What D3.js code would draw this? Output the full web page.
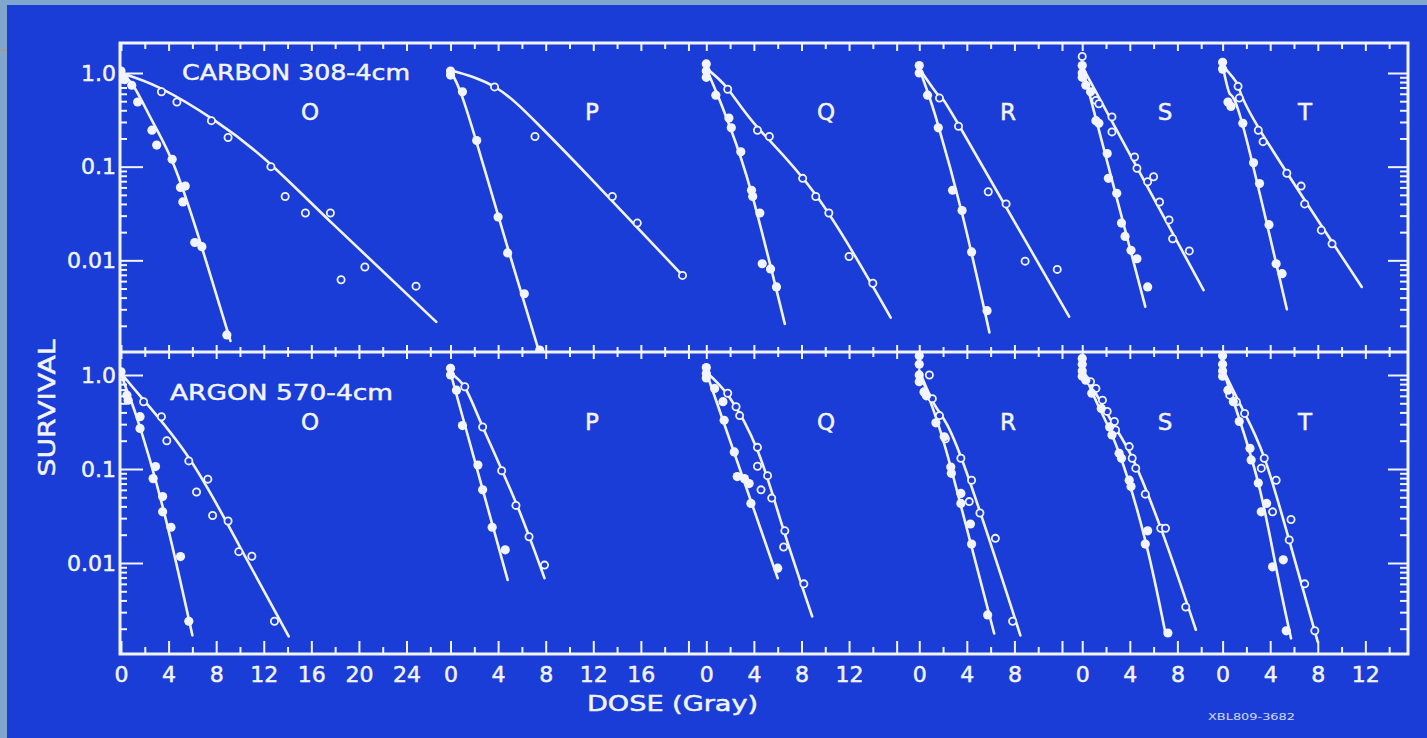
<!DOCTYPE html>
<html>
<head>
<meta charset="utf-8">
<script src="https://cdn.jsdelivr.net/npm/d3@7"></script>
<style>
html, body { margin: 0; padding: 0; background: #80a6cc; }
svg { display: block; }
text { font-family: "DejaVu Sans", "Liberation Sans", sans-serif; fill: #f2f4fb; stroke: #f2f4fb; stroke-width: 0.5px; }
</style>
</head>
<body>
<svg id="chart" width="1427" height="738"></svg>
<script>
'use strict';

// ---- data ----
const panels = ['O', 'P', 'Q', 'R', 'S', 'T'];
const doseSpan = [27.7, 21.5, 17.9, 13.7, 11.8, 15.5]; // Gy shown per panel
const doseLabels = [[0, 4, 8, 12, 16, 20, 24], [0, 4, 8, 12, 16], [0, 4, 8, 12], [0, 4, 8], [0, 4, 8], [0, 4, 8, 12]];
const beams = ['CARBON 308-4cm', 'ARGON 570-4cm'];
const survivalTicks = [1, 0.1, 0.01];
const survivalLabels = ['1.0', '0.1', '0.01'];

// [dose Gy, surviving fraction], one list per panel O..T
const carbonFilled = [
	[[0, 1.05], [0, 0.9], [0.3, 0.85], [0.9, 0.74], [1.4, 0.49], [2.6, 0.245], [3.0, 0.17], [4.3, 0.12], [5.0, 0.06], [5.4, 0.062], [5.2, 0.042], [6.2, 0.0155], [6.8, 0.014], [8.9, 0.0016]],
	[[0, 1.05], [0, 0.95], [1.0, 0.63], [2.2, 0.19], [4.0, 0.029], [4.8, 0.012], [6.2, 0.0044], [7.5, 0.0011]],
	[[0, 1.25], [0, 1.05], [0, 0.9], [0.8, 0.58], [1.9, 0.33], [2.1, 0.26], [2.9, 0.144], [3.8, 0.056], [3.9, 0.048], [4.5, 0.032], [4.7, 0.0092], [5.4, 0.0081], [5.9, 0.0052]],
	[[0, 1.2], [0, 1.0], [0.7, 0.58], [1.6, 0.26], [2.8, 0.056], [3.6, 0.034], [4.4, 0.0123], [5.7, 0.0029]],
	[[0, 1.2], [0, 1.0], [0, 0.9], [0.3, 0.74], [0.7, 0.63], [1.15, 0.31], [1.4, 0.29], [2.1, 0.138], [2.2, 0.075], [2.9, 0.052], [3.3, 0.025], [3.6, 0.018], [4.1, 0.0128], [4.6, 0.0104], [5.5, 0.0052]],
	[[0, 1.3], [0, 1.1], [0.45, 0.49], [0.7, 0.44], [1.7, 0.29], [2.6, 0.11], [3.1, 0.066], [3.9, 0.024], [4.5, 0.0092], [5.0, 0.0072]]
];
const carbonOpen = [
	[[3.4, 0.63], [4.7, 0.49], [7.6, 0.31], [9.0, 0.205], [12.6, 0.1], [13.8, 0.048], [15.5, 0.032], [17.6, 0.032], [20.5, 0.0085], [18.5, 0.0062], [24.8, 0.0053]],
	[[3.7, 0.71], [7.1, 0.21], [13.6, 0.048], [15.7, 0.025], [19.5, 0.0069]],
	[[1.8, 0.67], [4.3, 0.245], [5.3, 0.21], [8.1, 0.075], [9.2, 0.048], [10.3, 0.032], [12.0, 0.011], [14.0, 0.0057]],
	[[1.7, 0.54], [3.3, 0.27], [5.8, 0.054], [7.3, 0.04], [8.9, 0.0098], [11.6, 0.008]],
	[[0, 1.5], [1.15, 0.51], [1.4, 0.47], [2.5, 0.34], [2.5, 0.235], [4.4, 0.127], [4.6, 0.096], [5.5, 0.069], [6.0, 0.078], [6.5, 0.042], [7.3, 0.027], [7.6, 0.017], [9.0, 0.0126]],
	[[1.3, 0.72], [1.4, 0.54], [3.0, 0.245], [3.4, 0.185], [5.4, 0.085], [6.6, 0.062], [6.9, 0.04], [8.3, 0.021], [9.2, 0.015]]
];
const carbonFilledFit = [
	[[0, 1.0], [1.1, 0.71], [2.7, 0.295], [4.5, 0.1], [6.7, 0.0151], [9.2, 0.00138]],
	[[0, 1.05], [1.0, 0.55], [2.7, 0.11], [4.7, 0.0151], [7.5, 0.001]],
	[[0, 1.12], [1.0, 0.56], [2.0, 0.263], [3.8, 0.0525], [6.6, 0.0021]],
	[[0, 1.12], [0.7, 0.63], [1.6, 0.275], [3.6, 0.0316], [5.9, 0.0017]],
	[[0, 1.17], [5.3, 0.0032]],
	[[0, 1.2], [0.6, 0.6], [1.7, 0.275], [5.4, 0.003]]
];
const carbonOpenFit = [
	[[0, 1.0], [3.3, 0.69], [7.8, 0.316], [12.2, 0.117], [17.8, 0.0245], [26.5, 0.0022]],
	[[0, 1.07], [3.8, 0.7], [7.4, 0.28], [12.2, 0.066], [19.5, 0.0069]],
	[[0, 1.12], [1.8, 0.68], [4.3, 0.263], [9.2, 0.05], [15.5, 0.00245]],
	[[0, 1.12], [1.7, 0.56], [3.3, 0.282], [12.6, 0.0025]],
	[[0, 1.17], [10.2, 0.0048]],
	[[0, 1.2], [1.3, 0.74], [3.0, 0.263], [11.7, 0.0052]]
];
const argonFilled = [
	[[0, 1.08], [0.5, 0.61], [0.6, 0.54], [1.6, 0.36], [1.6, 0.27], [2.9, 0.106], [2.7, 0.079], [3.5, 0.051], [3.5, 0.035], [4.2, 0.024], [5.0, 0.0117], [5.7, 0.0024]],
	[[0, 1.18], [0, 1.0], [0.5, 0.69], [1.0, 0.29], [2.3, 0.11], [2.7, 0.06], [3.5, 0.024], [4.6, 0.0138]],
	[[0, 1.2], [0, 1.04], [0, 0.93], [0.7, 0.72], [1.4, 0.52], [1.5, 0.33], [2.35, 0.152], [2.6, 0.083], [3.2, 0.079], [3.6, 0.07], [3.75, 0.043], [6.0, 0.0088]],
	[[0, 1.6], [0, 1.3], [0, 1.0], [0, 0.85], [0.4, 0.66], [0.6, 0.6], [1.4, 0.31], [2.1, 0.22], [2.65, 0.105], [2.7, 0.09], [3.5, 0.055], [3.5, 0.043], [4.3, 0.026], [4.4, 0.0159], [5.75, 0.0028]],
	[[0, 1.5], [0, 1.3], [0, 1.1], [0, 0.97], [0.3, 0.88], [0.8, 0.64], [1.6, 0.44], [2.3, 0.28], [2.5, 0.23], [3.1, 0.147], [3.3, 0.13], [3.95, 0.076], [4.1, 0.065], [5.5, 0.022], [5.3, 0.0159], [7.2, 0.0018]],
	[[0, 1.6], [0, 1.3], [0, 1.1], [0, 0.97], [0.45, 0.69], [0.9, 0.52], [1.4, 0.32], [2.3, 0.166], [2.4, 0.125], [3.0, 0.071], [3.7, 0.043], [3.25, 0.035], [4.2, 0.0091], [5.1, 0.0108], [5.35, 0.0019]]
];
const argonOpen = [
	[[1.9, 0.52], [3.4, 0.36], [3.85, 0.2], [5.7, 0.122], [7.3, 0.078], [6.35, 0.057], [7.7, 0.032], [9.0, 0.028], [9.9, 0.0132], [11.0, 0.0118], [12.9, 0.0024]],
	[[1.2, 0.75], [2.7, 0.28], [4.3, 0.096], [5.5, 0.041], [6.6, 0.019], [7.9, 0.0095]],
	[[1.8, 0.64], [2.5, 0.46], [2.8, 0.37], [4.3, 0.17], [4.3, 0.107], [5.15, 0.085], [4.6, 0.06], [5.5, 0.049], [6.6, 0.022], [6.5, 0.0148], [8.2, 0.006]],
	[[0.85, 1.0], [1.1, 0.56], [1.7, 0.37], [2.2, 0.21], [3.5, 0.13], [4.4, 0.076], [4.2, 0.045], [5.1, 0.034], [6.4, 0.0183], [7.85, 0.0024]],
	[[0.7, 0.85], [1.15, 0.72], [1.7, 0.54], [2.1, 0.41], [2.7, 0.32], [2.8, 0.26], [3.95, 0.173], [4.2, 0.13], [4.5, 0.102], [5.3, 0.054], [6.6, 0.0234], [7.0, 0.0234], [8.7, 0.0034]],
	[[0.6, 0.61], [1.15, 0.52], [1.85, 0.39], [3.5, 0.13], [3.25, 0.102], [4.5, 0.076], [4.2, 0.035], [5.75, 0.029], [5.6, 0.0176], [6.9, 0.006], [7.75, 0.0019]]
];
const argonFilledFit = [
	[[0, 1.05], [0.6, 0.63], [1.3, 0.363], [3.5, 0.0398], [6.0, 0.0017]],
	[[0, 1.05], [4.8, 0.0066]],
	[[0, 1.07], [6.0, 0.0069]],
	[[0, 1.12], [1.1, 0.457], [2.65, 0.105], [6.3, 0.00178]],
	[[0, 1.17], [1.4, 0.457], [3.1, 0.148], [5.3, 0.0174], [7.0, 0.00178]],
	[[0, 1.17], [1.15, 0.427], [3.0, 0.0708], [4.5, 0.0089], [5.75, 0.00158]]
];
const argonOpenFit = [
	[[0, 1.05], [1.8, 0.56], [5.8, 0.126], [10.0, 0.0148], [14.1, 0.00166]],
	[[0, 1.05], [1.2, 0.74], [2.7, 0.282], [5.5, 0.0437], [7.9, 0.0069]],
	[[0, 1.07], [1.9, 0.59], [4.3, 0.158], [6.4, 0.0245], [8.9, 0.0027]],
	[[0, 1.12], [1.4, 0.457], [3.5, 0.135], [8.5, 0.0017]],
	[[0, 1.17], [2.5, 0.316], [4.2, 0.132], [6.75, 0.0209], [9.55, 0.00195]],
	[[0, 1.17], [1.7, 0.427], [3.5, 0.132], [5.6, 0.0174], [8.0, 0.00145]]
];

// ---- layout ----
const blue = '#1b3dd7';
const ink = '#f2f4fb';
const frame = {left: 120, right: 1408, top: 43, mid: 352, bottom: 654};
const letterX = [310, 592, 826, 1008, 1165, 1305];

const svg = d3.select('#chart');

svg.append('rect')
	.attr('x', 7).attr('y', 5)
	.attr('width', 1420).attr('height', 733)
	.attr('fill', blue);
svg.append('line')
	.attr('x1', 0).attr('x2', 7).attr('y1', 50).attr('y2', 50)
	.attr('stroke', '#c89060').attr('stroke-width', 1);

// one long dose axis, broken into panels that each restart at 0
let totalDose = d3.sum(doseSpan);
let xAll = d3.scaleLinear().domain([0, totalDose]).range([121, 1407]);
let offsets = doseSpan.map((d, i) => d3.sum(doseSpan.slice(0, i)));
let xPanel = doseSpan.map((span, i) => d3.scaleLinear()
	.domain([0, span])
	.range([xAll(offsets[i]), xAll(offsets[i] + span)]));

let rows = [
	{
		title: beams[0], titleX: 182, titleY: 80, letterY: 112,
		y: d3.scaleLog().domain([1, 0.001]).range([73, 354]),
		top: frame.top, bottom: frame.mid,
		filled: carbonFilled, open: carbonOpen, filledFit: carbonFilledFit, openFit: carbonOpenFit
	},
	{
		title: beams[1], titleX: 170, titleY: 400, letterY: 422,
		y: d3.scaleLog().domain([1, 0.001]).range([375, 657]),
		top: frame.mid, bottom: frame.bottom,
		filled: argonFilled, open: argonOpen, filledFit: argonFilledFit, openFit: argonOpenFit
	}
];

let minorValues = [];
[-3, -2, -1].forEach(k => {
	for (let m = 2; m <= 9; m++) minorValues.push(m * Math.pow(10, k));
});

function styleAxis(g) {
	g.select('.domain').remove();
	g.selectAll('.tick line').attr('stroke', ink).attr('stroke-width', 2);
	g.selectAll('.tick text').attr('fill', ink).attr('font-size', 22)
		.attr('font-family', '"DejaVu Sans", sans-serif');
}

rows.forEach((row, ri) => {
	let clipId = 'clip' + ri;
	svg.append('clipPath').attr('id', clipId)
		.append('rect')
		.attr('x', frame.left).attr('y', row.top)
		.attr('width', frame.right - frame.left).attr('height', row.bottom - row.top);

	// survival axis, left (labelled) and right
	svg.append('g')
		.attr('transform', `translate(${frame.left},0)`)
		.call(d3.axisLeft(row.y).tickValues(survivalTicks)
			.tickSize(-23).tickPadding(4)
			.tickFormat((d, i) => survivalLabels[i]))
		.call(styleAxis);
	svg.append('g')
		.attr('transform', `translate(${frame.left},0)`)
		.call(d3.axisLeft(row.y).tickValues(minorValues).tickSize(-7).tickFormat(''))
		.call(styleAxis);
	svg.append('g')
		.attr('transform', `translate(${frame.right},0)`)
		.call(d3.axisRight(row.y).tickValues(survivalTicks).tickSize(-20).tickFormat(''))
		.call(styleAxis);
	svg.append('g')
		.attr('transform', `translate(${frame.right},0)`)
		.call(d3.axisRight(row.y).tickValues(minorValues).tickSize(-8).tickFormat(''))
		.call(styleAxis);

	svg.append('text')
		.attr('x', row.titleX).attr('y', row.titleY)
		.attr('font-size', 22)
		.attr('textLength', ri === 0 ? 228 : 223)
		.attr('lengthAdjust', 'spacingAndGlyphs')
		.text(row.title);

	let plot = svg.append('g').attr('clip-path', `url(#${clipId})`);

	panels.forEach((name, pi) => {
		let x = xPanel[pi];
		let line = d3.line()
			.x(d => x(d[0]))
			.y(d => row.y(d[1]))
			.curve(d3.curveNatural);

		svg.append('text')
			.attr('x', letterX[pi]).attr('y', row.letterY)
			.attr('dy', '0.36em')
			.attr('text-anchor', 'middle')
			.attr('font-size', 23)
			.text(name);

		[row.filledFit[pi], row.openFit[pi]].forEach(fit => {
			plot.append('path')
				.datum(fit)
				.attr('d', line)
				.attr('fill', 'none')
				.attr('stroke', ink)
				.attr('stroke-width', 2.6)
				.attr('stroke-linecap', 'round');
		});

		plot.selectAll(null)
			.data(row.open[pi])
			.join('circle')
			.attr('cx', d => x(d[0]))
			.attr('cy', d => row.y(d[1]))
			.attr('r', 3.6)
			.attr('fill', blue)
			.attr('stroke', ink)
			.attr('stroke-width', 1.8);

		plot.selectAll(null)
			.data(row.filled[pi])
			.join('circle')
			.attr('cx', d => x(d[0]))
			.attr('cy', d => row.y(d[1]))
			.attr('r', 4.6)
			.attr('fill', ink);
	});
});

// dose ticks along the top edge, the divider and the bottom edge
panels.forEach((name, pi) => {
	let x = xPanel[pi];
	let all = d3.range(0, doseSpan[pi] - 0.5, 2);
	let major = all.filter(d => d % 4 === 0);
	let minor = all.filter(d => d % 4 !== 0);

	svg.append('g').attr('transform', `translate(0,${frame.top})`)
		.call(d3.axisBottom(x).tickValues(major).tickSize(8).tickFormat('')).call(styleAxis);
	svg.append('g').attr('transform', `translate(0,${frame.top})`)
		.call(d3.axisBottom(x).tickValues(minor).tickSize(6).tickFormat('')).call(styleAxis);

	svg.append('g').attr('transform', `translate(0,${frame.mid})`)
		.call(d3.axisBottom(x).tickValues(major).tickSize(7).tickFormat('')).call(styleAxis);
	svg.append('g').attr('transform', `translate(0,${frame.mid})`)
		.call(d3.axisTop(x).tickValues(major).tickSize(7).tickFormat('')).call(styleAxis);
	svg.append('g').attr('transform', `translate(0,${frame.mid})`)
		.call(d3.axisBottom(x).tickValues(minor).tickSize(5).tickFormat('')).call(styleAxis);
	svg.append('g').attr('transform', `translate(0,${frame.mid})`)
		.call(d3.axisTop(x).tickValues(minor).tickSize(5).tickFormat('')).call(styleAxis);

	svg.append('g').attr('transform', `translate(0,${frame.bottom})`)
		.call(d3.axisBottom(x).tickValues(major).tickSize(-13).tickFormat(''))
		.call(styleAxis);
	svg.append('g').attr('transform', `translate(0,${frame.bottom})`)
		.call(d3.axisBottom(x).tickValues(minor).tickSize(-7).tickFormat(''))
		.call(styleAxis);
	svg.append('g').attr('transform', `translate(0,${frame.bottom})`)
		.call(d3.axisBottom(x).tickValues(doseLabels[pi]).tickSize(0).tickPadding(12).tickFormat(d3.format('d')))
		.call(styleAxis);
});

// frame
svg.append('rect')
	.attr('x', frame.left).attr('y', frame.top)
	.attr('width', frame.right - frame.left).attr('height', frame.bottom - frame.top)
	.attr('fill', 'none').attr('stroke', ink).attr('stroke-width', 3);
svg.append('line')
	.attr('x1', frame.left).attr('x2', frame.right)
	.attr('y1', frame.mid).attr('y2', frame.mid)
	.attr('stroke', ink).attr('stroke-width', 3);

// axis titles
svg.append('text')
	.attr('transform', 'translate(55,408) rotate(-90)')
	.attr('text-anchor', 'middle')
	.attr('font-size', 23)
	.attr('textLength', 137)
	.attr('lengthAdjust', 'spacingAndGlyphs')
	.text('SURVIVAL');
svg.append('text')
	.attr('x', 587).attr('y', 711)
	.attr('font-size', 22)
	.attr('textLength', 171)
	.attr('lengthAdjust', 'spacingAndGlyphs')
	.text('DOSE  (Gray)');
svg.append('text')
	.attr('x', 1208).attr('y', 720)
	.attr('font-size', 9)
	.attr('textLength', 87)
	.attr('lengthAdjust', 'spacingAndGlyphs')
	.attr('opacity', 0.85)
	.style('stroke-width', '0px')
	.text('XBL809-3682');
</script>
</body>
</html>
